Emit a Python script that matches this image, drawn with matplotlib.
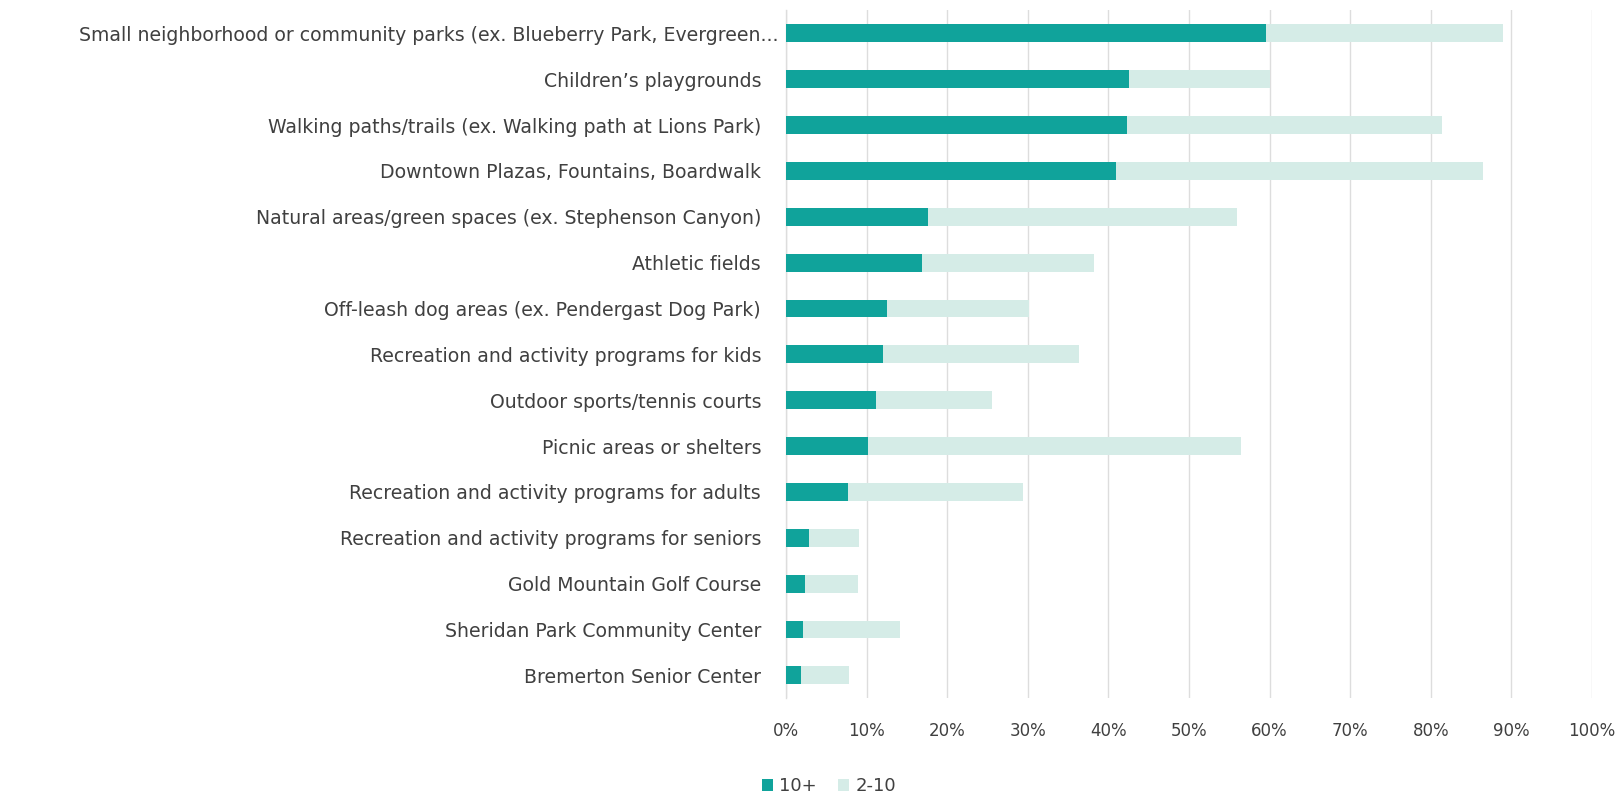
import matplotlib
matplotlib.use("Agg")
import matplotlib.pyplot as plt
import matplotlib.transforms as mtransforms
import numpy as np
from matplotlib.patches import Patch

categories = [
    "Small neighborhood or community parks (ex. Blueberry Park, Evergreen...",
    "Children\u2019s playgrounds",
    "Walking paths/trails (ex. Walking path at Lions Park)",
    "Downtown Plazas, Fountains, Boardwalk",
    "Natural areas/green spaces (ex. Stephenson Canyon)",
    "Athletic fields",
    "Off-leash dog areas (ex. Pendergast Dog Park)",
    "Recreation and activity programs for kids",
    "Outdoor sports/tennis courts",
    "Picnic areas or shelters",
    "Recreation and activity programs for adults",
    "Recreation and activity programs for seniors",
    "Gold Mountain Golf Course",
    "Sheridan Park Community Center",
    "Bremerton Senior Center",
]
ten_plus = [59.5, 42.5, 42.3, 41.0, 17.6, 16.9, 12.5, 12.0, 11.2, 10.2, 7.7, 2.8, 2.3, 2.1, 1.8]
two_to_ten = [29.4, 17.6, 39.1, 45.5, 38.4, 21.3, 17.7, 24.3, 14.4, 46.3, 21.7, 6.2, 6.6, 12.0, 6.0]
series_names = ["10+", "2-10"]
xticks = [0, 10, 20, 30, 40, 50, 60, 70, 80, 90, 100]

dark = "#10A39B"
light = "#D5ECE7"
text_col = "#404040"

plt.rcParams['font.family'] = ['DejaVu Sans']

fig = plt.figure(figsize=(16.23, 7.99), dpi=100)
ax = fig.add_axes([0.4843, 0.126, 0.4966, 0.861])

y = np.arange(len(categories))
h = 0.39
ax.barh(y, ten_plus, height=h, color=dark, zorder=3)
ax.barh(y, two_to_ten, left=ten_plus, height=h, color=light, zorder=3)

ax.set_ylim(len(categories) - 0.5, -0.5)
ax.set_xlim(0, 100)
ax.set_yticks(y)
ax.set_yticklabels(categories, fontsize=13.6, color=text_col)
ax.set_xticks(xticks)
ax.set_xticklabels([f"{t}%" for t in xticks], fontsize=12, color=text_col)
ax.tick_params(axis='y', length=0, pad=18)
ax.tick_params(axis='x', length=0, pad=17)
ax.grid(axis='x', color="#DDDDDD", linewidth=1.0, zorder=0)
for s in ["top", "right", "bottom"]:
    ax.spines[s].set_visible(False)
ax.spines["left"].set_color("#DDDDDD")
ax.spines["left"].set_linewidth(1.0)

# first label sits a bit further right (truncated label)
lbl0 = ax.get_yticklabels()[0]
lbl0.set_transform(lbl0.get_transform() + mtransforms.ScaledTranslation(17 / 100, 0, fig.dpi_scale_trans))

handles = [Patch(facecolor=dark), Patch(facecolor=light)]
fig.legend(handles, series_names, loc="center left", bbox_to_anchor=(0.4595, 0.016),
           ncol=2, frameon=False, fontsize=13, handlelength=0.6, handleheight=0.6,
           handletextpad=0.35, columnspacing=1.2, labelcolor=text_col)

fig.savefig("out.png", dpi=100, facecolor="white")
